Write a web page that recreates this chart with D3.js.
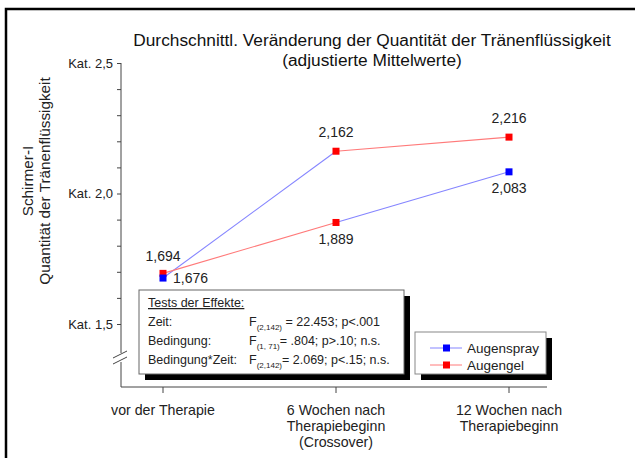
<!DOCTYPE html>
<html>
<head>
<meta charset="utf-8">
<script src="https://cdn.jsdelivr.net/npm/d3@7"></script>
<style>
  body { margin:0; background:#fff; }
  svg { font-family: "Liberation Sans", Arial, sans-serif; }
</style>
</head>
<body>
<svg id="chart"></svg>
<script>
// timepoints on the x axis
var timepoints = ["vor der Therapie", "6 Wochen nach|Therapiebeginn|(Crossover)", "12 Wochen nach|Therapiebeginn"];

// adjusted means per group (crossover after 6 weeks)
var sprayFirst = [1.676, 2.162, 2.216];
var gelFirst = [1.694, 1.889, 2.083];

// which treatment each segment / marker belongs to
var sprayFirstSegments = ["spray", "gel"];
var gelFirstSegments = ["gel", "spray"];
var sprayFirstMarkers = ["spray", "gel", "gel"];
var gelFirstMarkers = ["gel", "gel", "spray"];

// value labels shown at the points
var sprayFirstLabels = ["1,676", "2,162", "2,216"];
var gelFirstLabels = ["1,694", "1,889", "2,083"];

var yTicks = [1.5, 2.0, 2.5];
var yTickLabels = ["Kat. 1,5", "Kat. 2,0", "Kat. 2,5"];

var effectRows = [
  {name:"Zeit:", sub:"(2,142)", rest:" = 22.453; p<.001"},
  {name:"Bedingung:", sub:"(1, 71)", rest:"= .804; p>.10; n.s."},
  {name:"Bedingung*Zeit:", sub:"(2,142)", rest:"= 2.069; p<.15; n.s."}
];

var legendItems = [{key:"spray", label:"Augenspray"}, {key:"gel", label:"Augengel"}];

var lineColor = {spray:"#8585ff", gel:"#ff7a7a"};
var markColor = {spray:"#0000ff", gel:"#ff0000"};

var screen = {width:635, height:458};
var svg = d3.select("#chart")
    .attr("width", screen.width)
    .attr("height", screen.height);

// outer frame
svg.append("rect")
    .attr("x", 6).attr("y", 9)
    .attr("width", 640).attr("height", 460)
    .attr("fill", "none")
    .attr("stroke", "#000")
    .attr("stroke-width", 2.5);

var xScale = d3.scalePoint()
    .domain(timepoints)
    .range([163, 509]);

var yScale = d3.scaleLinear()
    .domain([1.5, 2.5])
    .range([324, 63]);

var axisX = 121, axisY = 387;

// title
var title = svg.append("text")
    .attr("text-anchor", "middle")
    .attr("font-size", 17.3)
    .attr("fill", "#111");
title.append("tspan").attr("x", 372).attr("y", 46)
    .text("Durchschnittl. Veränderung der Quantität der Tränenflüssigkeit");
title.append("tspan").attr("x", 372).attr("y", 66)
    .text("(adjustierte Mittelwerte)");

// y axis title
var yt = svg.append("text")
    .attr("transform", "translate(0,181) rotate(-90)")
    .attr("text-anchor", "middle")
    .attr("font-size", 15.3)
    .attr("fill", "#222");
yt.append("tspan").attr("x", 0).attr("y", 33).text("Schirmer-I");
yt.append("tspan").attr("x", 0).attr("y", 50).text("Quantität der Tränenflüssigkeit");

// y axis
var minorTicks = d3.range(1.5, 2.51, 0.1);
var yAxis = d3.axisLeft(yScale)
    .tickValues(minorTicks)
    .tickSize(4)
    .tickFormat(function(d){
        var i = yTicks.findIndex(function(t){ return Math.abs(t-d) < 1e-6; });
        return i >= 0 ? yTickLabels[i] : "";
    });
var yg = svg.append("g")
    .attr("transform", "translate(" + axisX + ",0)")
    .call(yAxis);
yg.select(".domain").remove();
yg.selectAll("text").attr("font-size", 13).attr("fill", "#222")
    .attr("font-family", "Liberation Sans, Arial, sans-serif").attr("x", -8);
yg.selectAll("line").attr("stroke", "#444");

// axis lines (with break)
svg.append("line")
    .attr("x1", axisX).attr("x2", axisX)
    .attr("y1", yScale(2.5)).attr("y2", 353)
    .attr("stroke", "#444");
svg.append("line")
    .attr("x1", axisX).attr("x2", axisX)
    .attr("y1", 362).attr("y2", axisY)
    .attr("stroke", "#444");
[354, 360].forEach(function(yy){
    svg.append("line")
        .attr("x1", axisX-8).attr("x2", axisX+6)
        .attr("y1", yy+4).attr("y2", yy-3)
        .attr("stroke", "#444");
});
svg.append("line")
    .attr("x1", axisX).attr("x2", 547)
    .attr("y1", axisY).attr("y2", axisY)
    .attr("stroke", "#444");

// x ticks and labels
timepoints.forEach(function(t){
    var x = xScale(t);
    svg.append("line")
        .attr("x1", x).attr("x2", x)
        .attr("y1", axisY).attr("y2", axisY+6)
        .attr("stroke", "#444");
    var lab = svg.append("text")
        .attr("text-anchor", "middle")
        .attr("font-size", 14.2)
        .attr("fill", "#222");
    t.split("|").forEach(function(line, i){
        lab.append("tspan").attr("x", x).attr("y", 415 + i*16).text(line);
    });
});

// stats box
var box = {x:139, y:290, w:265, h:84};
svg.append("rect")
    .attr("x", box.x+6).attr("y", box.y+6)
    .attr("width", box.w).attr("height", box.h)
    .attr("fill", "#000");
svg.append("rect")
    .attr("x", box.x).attr("y", box.y)
    .attr("width", box.w).attr("height", box.h)
    .attr("fill", "#fff").attr("stroke", "#666");
svg.append("text")
    .attr("x", 148).attr("y", 307)
    .attr("font-size", 12.5).attr("fill", "#222")
    .attr("text-decoration", "underline")
    .text("Tests der Effekte:");
effectRows.forEach(function(r, i){
    var y = 326 + i*19;
    svg.append("text").attr("x", 148).attr("y", y)
        .attr("font-size", 12.5).attr("fill", "#222").text(r.name);
    var t = svg.append("text").attr("x", 249).attr("y", y)
        .attr("font-size", 12.5).attr("fill", "#222");
    t.append("tspan").text("F");
    t.append("tspan").attr("font-size", 8).attr("dy", 4).text(r.sub);
    t.append("tspan").attr("dy", -4).text(r.rest);
});

// data lines
var series = [
  {values:sprayFirst, segs:sprayFirstSegments, marks:sprayFirstMarkers, labels:sprayFirstLabels,
   offs:[[10,5,"start"],[0,-14,"middle"],[0,-14,"middle"]]},
  {values:gelFirst, segs:gelFirstSegments, marks:gelFirstMarkers, labels:gelFirstLabels,
   offs:[[0,-12,"middle"],[0,22,"middle"],[0,21,"middle"]]}
];

series.forEach(function(s){
    s.segs.forEach(function(seg, i){
        svg.append("line")
            .attr("x1", xScale(timepoints[i])).attr("y1", yScale(s.values[i]))
            .attr("x2", xScale(timepoints[i+1])).attr("y2", yScale(s.values[i+1]))
            .attr("stroke", lineColor[seg]).attr("stroke-width", 1.1);
    });
});
// gel-first markers first so the spray marker at start sits on top
[series[1], series[0]].forEach(function(s){
    svg.selectAll(null)
        .data(s.values)
        .enter()
        .append("rect")
        .attr("x", function(d, i){ return xScale(timepoints[i]) - 3.5; })
        .attr("y", function(d){ return yScale(d) - 3.5; })
        .attr("width", 7).attr("height", 7)
        .attr("fill", function(d, i){ return markColor[s.marks[i]]; });
});
series.forEach(function(s){
    s.values.forEach(function(d, i){
        svg.append("text")
            .attr("x", xScale(timepoints[i]) + s.offs[i][0])
            .attr("y", yScale(d) + s.offs[i][1])
            .attr("text-anchor", s.offs[i][2])
            .attr("font-size", 14).attr("fill", "#222")
            .text(s.labels[i]);
    });
});

// legend
var leg = {x:415, y:332, w:131, h:42};
svg.append("rect")
    .attr("x", leg.x+6).attr("y", leg.y+6)
    .attr("width", leg.w).attr("height", leg.h)
    .attr("fill", "#000");
svg.append("rect")
    .attr("x", leg.x).attr("y", leg.y)
    .attr("width", leg.w).attr("height", leg.h)
    .attr("fill", "#fff").attr("stroke", "#888");
legendItems.forEach(function(item, i){
    var y = 348 + i*17;
    svg.append("line")
        .attr("x1", 430).attr("x2", 462)
        .attr("y1", y).attr("y2", y)
        .attr("stroke", lineColor[item.key]);
    svg.append("rect")
        .attr("x", 443).attr("y", y-3.5)
        .attr("width", 7).attr("height", 7)
        .attr("fill", markColor[item.key]);
    svg.append("text")
        .attr("x", 467).attr("y", y+5)
        .attr("font-size", 13.5).attr("fill", "#222")
        .text(item.label);
});
</script>
</body>
</html>
